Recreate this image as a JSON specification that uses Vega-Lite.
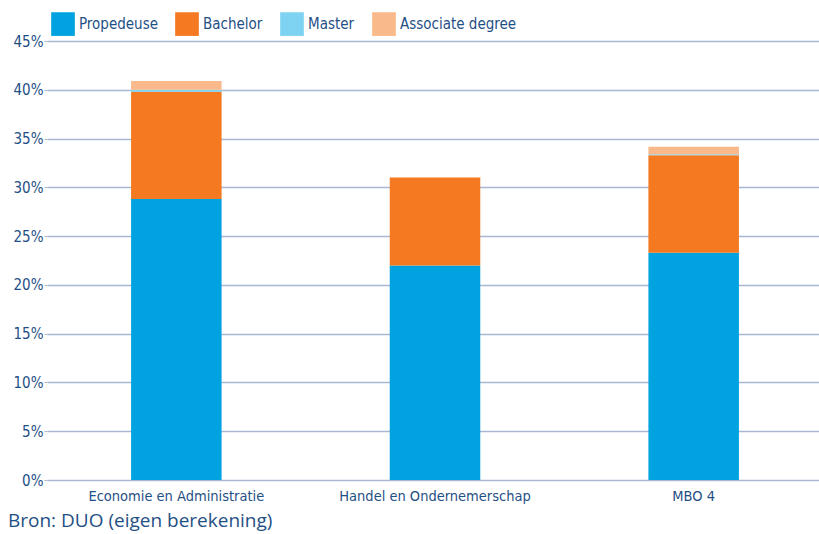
{
  "$schema": "https://vega.github.io/schema/vega-lite/v6.json",
  "autosize": {"type": "none"},
  "width": 776,
  "height": 439,
  "padding": {"left": 47, "top": 41, "right": 0, "bottom": 54},
  "background": "white",
  "title": {
    "text": "Bron: DUO (eigen berekening)",
    "orient": "bottom",
    "anchor": "start",
    "frame": "group",
    "offset": 9,
    "dx": -39,
    "font": "Open Sans",
    "fontSize": 19,
    "fontWeight": "normal",
    "color": "#1f5085"
  },
  "data": {
    "values": [
      {"cat": "Economie en Administratie", "type": "Propedeuse", "order": 1, "value": 28.8},
      {"cat": "Economie en Administratie", "type": "Bachelor", "order": 2, "value": 11.0},
      {"cat": "Economie en Administratie", "type": "Master", "order": 3, "value": 0.2},
      {"cat": "Economie en Administratie", "type": "Associate degree", "order": 4, "value": 0.9},
      {"cat": "Handel en Ondernemerschap", "type": "Propedeuse", "order": 1, "value": 22.0},
      {"cat": "Handel en Ondernemerschap", "type": "Bachelor", "order": 2, "value": 9.0},
      {"cat": "Handel en Ondernemerschap", "type": "Master", "order": 3, "value": 0.0},
      {"cat": "Handel en Ondernemerschap", "type": "Associate degree", "order": 4, "value": 0.05},
      {"cat": "MBO 4", "type": "Propedeuse", "order": 1, "value": 23.3},
      {"cat": "MBO 4", "type": "Bachelor", "order": 2, "value": 10.0},
      {"cat": "MBO 4", "type": "Master", "order": 3, "value": 0.1},
      {"cat": "MBO 4", "type": "Associate degree", "order": 4, "value": 0.75}
    ]
  },
  "mark": {"type": "bar"},
  "encoding": {
    "x": {
      "field": "cat",
      "type": "nominal",
      "sort": null,
      "scale": {"paddingInner": 0.65, "paddingOuter": 0.325},
      "axis": {
        "title": null,
        "labelAngle": 0,
        "domain": false,
        "ticks": false,
        "labelPadding": 9,
        "labelLimit": 400,
        "labelFont": "'DejaVu Sans Condensed', 'Liberation Sans Narrow', Roboto, sans-serif",
        "labelFontSize": 14.5,
        "labelColor": "#1f5085"
      }
    },
    "y": {
      "field": "value",
      "type": "quantitative",
      "stack": "zero",
      "scale": {"domain": [0, 45], "nice": false},
      "axis": {
        "title": null,
        "values": [0, 5, 10, 15, 20, 25, 30, 35, 40, 45],
        "labelExpr": "datum.value + '%'",
        "domain": false,
        "ticks": true,
        "tickSize": 3,
        "tickColor": "#a9b6d4",
        "gridColor": "#a9b6d4",
        "gridWidth": 1.5,
        "labelPadding": 1,
        "labelFont": "'DejaVu Sans Condensed', 'Liberation Sans Narrow', Roboto, sans-serif",
        "labelFontSize": 15,
        "labelColor": "#1f5085"
      }
    },
    "color": {
      "field": "type",
      "type": "nominal",
      "sort": ["Propedeuse", "Bachelor", "Master", "Associate degree"],
      "scale": {
        "domain": ["Propedeuse", "Bachelor", "Master", "Associate degree"],
        "range": ["#00a3e0", "#f47920", "#7fd3f2", "#f9b98a"]
      },
      "legend": {
        "title": null,
        "orient": "none",
        "legendX": 4,
        "legendY": -29,
        "direction": "horizontal",
        "columns": 4,
        "symbolType": "square",
        "symbolSize": 560,
        "symbolStrokeWidth": 0,
        "symbolOpacity": 1,
        "labelFont": "'DejaVu Sans Condensed', 'Liberation Sans Narrow', Roboto, sans-serif",
        "labelFontSize": 15,
        "labelColor": "#1f5085",
        "labelOffset": 4,
        "columnPadding": 17
      }
    },
    "order": {"field": "order", "type": "quantitative"}
  },
  "config": {
    "view": {"stroke": null}
  }
}
